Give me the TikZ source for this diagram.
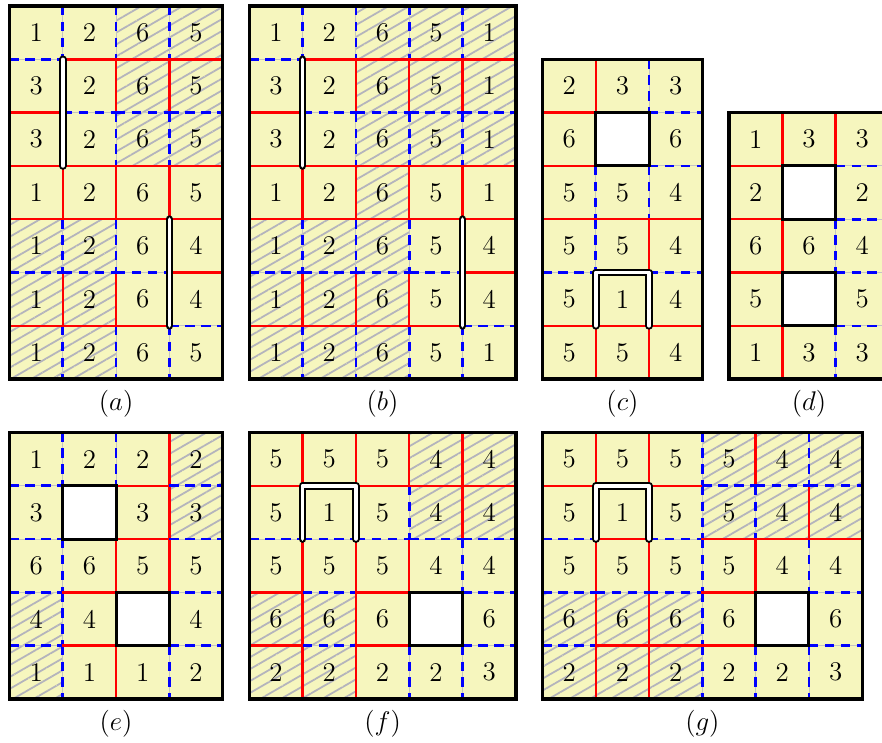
\documentclass[tikz,border=0pt]{standalone}
\usepackage{tikz}
\usetikzlibrary{patterns.meta}
\definecolor{tilefill}{HTML}{F6F6BE}
\definecolor{seamred}{HTML}{FF0000}
\definecolor{seamblue}{HTML}{0000FF}
\definecolor{hatchgray}{HTML}{B4B4BC}
\definecolor{gridgray}{HTML}{C4C4C4}
\tikzset{
  tile/.style={fill=tilefill},
  hatch/.style={pattern={Lines[angle=30,distance=5.5pt,line width=0.95pt]}, pattern color=hatchgray},
  gridline/.style={draw=gridgray, line width=0.5pt},
  seam r/.style={draw=seamred, line width=1.3pt, line cap=rect},
  seam b/.style={draw=seamblue, line width=1.4pt, dash pattern=on 5pt off 3.5pt},
  seam n/.style={draw=none},
  hole/.style={draw=black, fill=white, line width=1.6pt},
  frame/.style={draw=black, line width=1.8pt},
  wall/.style={draw=black, line width=1.1pt, double=white, double distance=1.9pt,
               line cap=round, line join=round},
  num/.style={font=\Large, inner sep=0pt},
  lab/.style={font=\Large},
}
% #1 name, #2 columns, #3 rows, #4 values (rows), #5 hatched cells i/j,
% #6 vertical seams (per row), #7 horizontal seams (per line), #8 holes i/j
\newcommand{\tilegrid}[8]{%
  \fill[tile] (0,0) rectangle (#2,-#3);
  \if\relax\detokenize{#5}\relax\else
    \foreach \i/\j in {#5} \path[hatch] (\i,-\j) rectangle ++(1,-1);
  \fi
  \draw[gridline] (0,0) grid (#2,-#3);
  \foreach \row [count=\j from 0] in {#6} {
    \foreach \kind [count=\i from 1] in \row
      \draw[seam \kind] (\i,-\j) -- ++(0,-1);
  }
  \foreach \row [count=\j from 1] in {#7} {
    \foreach \kind [count=\i from 0] in \row
      \draw[seam \kind] (\i,-\j) -- ++(1,0);
  }
  \if\relax\detokenize{#8}\relax\else
    \foreach \i/\j in {#8} \draw[hole] (\i,-\j) rectangle ++(1,-1);
  \fi
  \foreach \row [count=\j from 0] in {#4} {
    \foreach \v [count=\i from 0] in \row
      \node[num] (#1-\i-\j) at (\i+0.5,-\j-0.5) {\v};
  }
  \draw[frame] (0,0) rectangle (#2,-#3);
  \node[lab] (#1-label) at ({#2/2},{-#3-0.47}) {$(#1)$};
}

\begin{document}
\begin{tikzpicture}
  \path[use as bounding box, clip] (-0.178,0.113) rectangle (16.37,-13.81);

  % top row
  \begin{scope}
    \tilegrid{a}{4}{7}
      {{1,2,6,5},{3,2,6,5},{3,2,6,5},{1,2,6,5},{1,2,6,4},{1,2,6,4},{1,2,6,5}}
      {2/0,3/0,2/1,3/1,2/2,3/2,0/4,1/4,0/5,1/5,0/6,1/6}
      {{b,b,b},{n,r,r},{n,b,b},{r,r,r},{b,b,n},{r,r,n},{b,b,b}}
      {{b,r,r,r},{r,b,b,b},{r,r,r,r},{r,r,r,r},{b,b,b,r},{r,r,r,b}}
      {}
    \draw[wall] (1,-1) -- (1,-3);
    \draw[wall] (3,-4) -- (3,-6);
  \end{scope}

  \begin{scope}[shift={(4.5,0)}]
    \tilegrid{b}{5}{7}
      {{1,2,6,5,1},{3,2,6,5,1},{3,2,6,5,1},{1,2,6,5,1},{1,2,6,5,4},{1,2,6,5,4},{1,2,6,5,1}}
      {2/0,3/0,4/0,2/1,3/1,4/1,2/2,3/2,4/2,2/3,0/4,1/4,2/4,0/5,1/5,2/5,0/6,1/6,2/6}
      {{b,b,b,b},{n,r,r,r},{n,b,b,b},{r,r,r,r},{b,b,b,n},{r,r,r,n},{b,b,b,b}}
      {{b,r,r,r,r},{r,b,b,b,b},{r,r,r,r,r},{r,r,r,r,r},{b,b,b,b,r},{r,r,r,r,b}}
      {}
    \draw[wall] (1,-1) -- (1,-3);
    \draw[wall] (4,-4) -- (4,-6);
  \end{scope}

  \begin{scope}[shift={(10,-1)}]
    \tilegrid{c}{3}{6}
      {{2,3,3},{6,{},6},{5,5,4},{5,5,4},{5,1,4},{5,5,4}}
      {}
      {{r,b},{n,n},{b,b},{b,r},{n,n},{r,r}}
      {{r,n,b},{r,n,b},{r,r,r},{b,n,b},{r,r,r}}
      {1/1}
    \draw[wall] (1,-5) -- (1,-4) -- (2,-4) -- (2,-5);
  \end{scope}

  \begin{scope}[shift={(13.5,-2)}]
    \tilegrid{d}{3}{5}
      {{1,3,3},{2,{},2},{6,6,4},{5,{},5},{1,3,3}}
      {}
      {{r,r},{n,n},{r,b},{n,n},{r,b}}
      {{r,n,b},{r,n,b},{r,n,b},{r,n,b}}
      {1/1,1/3}
  \end{scope}

  % bottom row
  \begin{scope}[shift={(0,-8)}]
    \tilegrid{e}{4}{5}
      {{1,2,2,2},{3,{},3,3},{6,6,5,5},{4,4,{},4},{1,1,1,2}}
      {3/0,3/1,0/3,0/4}
      {{b,b,r},{n,n,r},{b,r,r},{b,n,n},{b,r,b}}
      {{b,n,r,b},{b,n,r,b},{b,r,n,b},{b,r,n,b}}
      {1/1,2/3}
  \end{scope}

  \begin{scope}[shift={(4.5,-8)}]
    \tilegrid{f}{5}{5}
      {{5,5,5,4,4},{5,1,5,4,4},{5,5,5,4,4},{6,6,6,{},6},{2,2,2,2,3}}
      {3/0,4/0,3/1,4/1,0/3,1/3,0/4,1/4}
      {{r,r,r,r},{n,n,b,r},{r,r,r,b},{r,r,n,n},{r,r,b,b}}
      {{r,n,r,r,r},{b,b,b,b,b},{r,b,r,n,b},{r,b,r,n,b}}
      {3/3}
    \draw[wall] (1,-2) -- (1,-1) -- (2,-1) -- (2,-2);
  \end{scope}

  \begin{scope}[shift={(10,-8)}]
    \tilegrid{g}{6}{5}
      {{5,5,5,5,4,4},{5,1,5,5,4,4},{5,5,5,5,4,4},{6,6,6,6,{},6},{2,2,2,2,2,3}}
      {3/0,4/0,5/0,3/1,4/1,5/1,0/3,1/3,2/3,0/4,1/4,2/4}
      {{r,r,b,r,b},{n,n,b,b,r},{r,r,b,r,b},{r,r,b,n,n},{r,r,b,b,b}}
      {{r,n,r,b,b,b},{b,r,b,r,r,r},{b,b,b,r,n,b},{b,r,r,r,n,b}}
      {4/3}
    \draw[wall] (1,-2) -- (1,-1) -- (2,-1) -- (2,-2);
  \end{scope}
\end{tikzpicture}
\end{document}
